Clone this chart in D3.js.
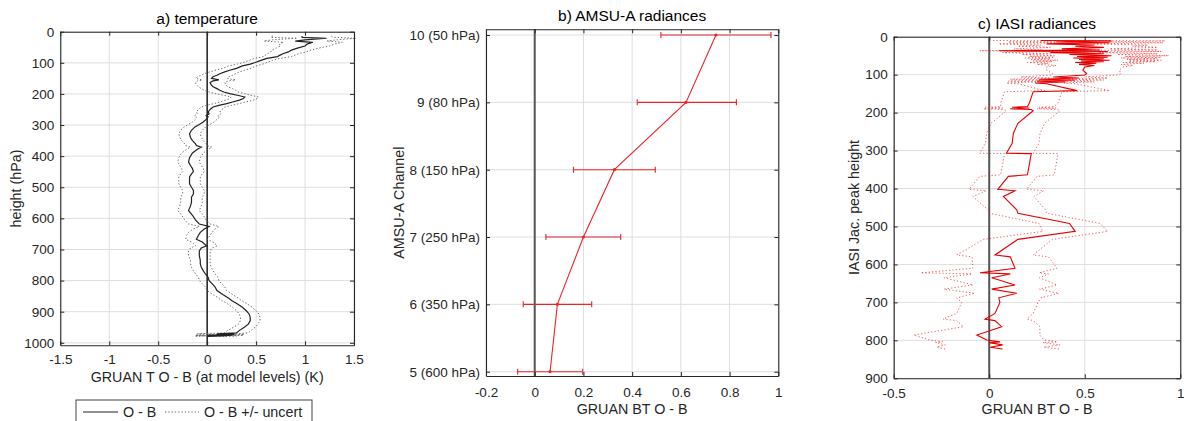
<!DOCTYPE html>
<html><head><meta charset="utf-8">
<script src="https://cdn.jsdelivr.net/npm/d3@7"></script>
<style>
body{margin:0;background:#fff;}
svg{display:block;font-family:"Liberation Sans",Arial,Helvetica,sans-serif;}
</style></head><body>
<svg id="chart" width="1184" height="421"></svg>
<script>
// ---------- Panel a: temperature ----------
const aP = [14, 18, 21, 26, 30, 34, 40, 46, 52, 59,
 65, 70, 76, 80, 86, 92, 99, 104, 110, 118,
 124, 129, 135, 140, 145, 150, 155, 158, 163, 170,
 177, 183, 188, 194, 199, 205, 210, 215, 220, 226,
 231, 237, 242, 250, 258, 264, 270, 274, 282, 290,
 298, 306, 317, 328, 340, 350, 360, 366, 371, 378,
 390, 405, 419, 430, 440, 450, 457, 467, 478, 489,
 500, 510, 521, 532, 548, 560, 575, 590, 605, 618,
 626, 634, 645, 655, 667, 676, 688, 695, 705, 720,
 735, 746, 757, 768, 778, 789, 800, 810, 820, 832,
 845, 857, 864, 875, 886, 897, 908, 918, 929, 940,
 950, 960, 968, 971, 973, 975, 976, 977, 978, 979];
const aOB = [0.97, 0.97, 1.22, 1.0, 0.9, 1.08, 1.02, 1.0, 0.93, 0.86,
 0.83, 0.78, 0.74, 0.72, 0.61, 0.55, 0.49, 0.44, 0.36, 0.30,
 0.23, 0.18, 0.13, 0.10, 0.06, 0.045, 0.12, 0.06, 0.03, 0.04,
 0.06, 0.10, 0.13, 0.17, 0.23, 0.32, 0.385, 0.37, 0.33, 0.26,
 0.20, 0.12, 0.06, 0.03, 0.01, 0.02, -0.01, 0.01, -0.01, -0.04,
 -0.08, -0.125, -0.16, -0.18, -0.17, -0.15, -0.12, -0.11, -0.06, -0.10,
 -0.15, -0.18, -0.19, -0.17, -0.15, -0.14, -0.16, -0.18, -0.18, -0.18,
 -0.16, -0.14, -0.14, -0.16, -0.16, -0.17, -0.19, -0.15, -0.12, -0.08,
 0.02, -0.03, -0.07, -0.09, -0.11, -0.05, -0.006, -0.06, -0.08, -0.08,
 -0.07, -0.07, -0.06, -0.04, -0.02, 0.01, 0.02, 0.05, 0.08, 0.10,
 0.16, 0.22, 0.25, 0.31, 0.36, 0.40, 0.43, 0.44, 0.44, 0.42,
 0.38, 0.33, 0.30, 0.10, 0.28, 0.0, 0.25, 0.02, 0.20, 0.0];
const aUnc = [0.30, 0.32, 0.30, 0.33, 0.32, 0.30, 0.28, 0.25, 0.22, 0.20,
 0.18, 0.16, 0.15, 0.14, 0.13, 0.12, 0.12, 0.13, 0.14, 0.14,
 0.15, 0.15, 0.16, 0.16, 0.16, 0.16, 0.17, 0.16, 0.15, 0.15,
 0.15, 0.16, 0.16, 0.15, 0.15, 0.14, 0.14, 0.14, 0.14, 0.13,
 0.13, 0.13, 0.12, 0.12, 0.12, 0.12, 0.12, 0.12, 0.11, 0.11,
 0.11, 0.11, 0.11, 0.11, 0.11, 0.11, 0.11, 0.11, 0.11, 0.11,
 0.11, 0.11, 0.11, 0.11, 0.11, 0.11, 0.11, 0.11, 0.11, 0.11,
 0.11, 0.11, 0.11, 0.11, 0.11, 0.11, 0.11, 0.11, 0.11, 0.11,
 0.10, 0.11, 0.12, 0.12, 0.11, 0.11, 0.11, 0.11, 0.11, 0.11,
 0.10, 0.10, 0.10, 0.10, 0.10, 0.10, 0.10, 0.10, 0.10, 0.10,
 0.10, 0.10, 0.10, 0.10, 0.10, 0.10, 0.10, 0.10, 0.10, 0.10,
 0.11, 0.12, 0.12, 0.20, 0.10, 0.12, 0.12, 0.14, 0.10, 0.12];
const aXTicks = [-1.5, -1, -0.5, 0, 0.5, 1, 1.5];
const aYTicks = [0, 100, 200, 300, 400, 500, 600, 700, 800, 900, 1000];

// ---------- Panel b: AMSU-A ----------
const bChannels = [5, 6, 7, 8, 9, 10];
const bLabels = ["5 (600 hPa)", "6 (350 hPa)", "7 (250 hPa)", "8 (150 hPa)", "9 (80 hPa)", "10 (50 hPa)"];
const bOB   = [0.063, 0.093, 0.200, 0.327, 0.621, 0.744];
const bLow  = [-0.070, -0.047, 0.046, 0.159, 0.421, 0.518];
const bHigh = [0.197, 0.234, 0.353, 0.495, 0.828, 0.970];
const bXTicks = [-0.2, 0, 0.2, 0.4, 0.6, 0.8, 1];

// ---------- Panel c: IASI ----------
const cP = [10, 11, 14, 16, 19, 22, 25, 28, 32, 35,
 37, 39, 42, 45, 47, 50, 52, 54, 56, 58,
 60, 62, 64, 66, 68, 70, 73, 76, 80, 88,
 97, 101, 106, 109, 112, 114, 117, 119, 122, 124,
 142, 145, 160, 175, 184, 186, 188, 190, 192, 195,
 228, 255, 281, 307, 308, 364, 368, 402, 406, 421,
 456, 465, 492, 513, 534, 575, 580, 610, 622, 625,
 635, 654, 665, 676, 688, 700, 729, 744, 748, 764,
 786, 799, 804, 806, 812, 818, 823];
const cOB = [0.27, 0.64, 0.35, 0.63, 0.30, 0.55, 0.45, 0.60, 0.38, 0.58,
 0.05, 0.62, 0.32, 0.60, 0.42, 0.64, 0.46, 0.62, 0.44, 0.60,
 0.47, 0.63, 0.48, 0.60, 0.45, 0.56, 0.47, 0.55, 0.50, 0.49,
 0.51, 0.50, 0.335, 0.47, 0.26, 0.45, 0.25, 0.40, 0.24, 0.30,
 0.46, 0.23, 0.22, 0.21, 0.20, 0.12, 0.21, 0.11, 0.22, 0.23,
 0.15, 0.126, 0.12, 0.09, 0.22, 0.20, 0.10, 0.045, 0.135, 0.074,
 0.144, 0.15, 0.42, 0.45, 0.15, 0.03, 0.11, 0.135, -0.048, 0.11,
 0.013, 0.135, 0.013, 0.144, 0.05, 0.056, 0.03, -0.022, 0.03, 0.065,
 -0.065, -0.013, 0.056, 0.0, 0.07, 0.005, 0.07];
const cUnc = [0.25, 0.28, 0.25, 0.28, 0.25, 0.28, 0.30, 0.28, 0.25, 0.30,
 0.10, 0.28, 0.25, 0.28, 0.25, 0.30, 0.25, 0.28, 0.25, 0.28,
 0.25, 0.27, 0.25, 0.27, 0.25, 0.25, 0.22, 0.20, 0.20, 0.19,
 0.18, 0.17, 0.17, 0.15, 0.15, 0.15, 0.15, 0.15, 0.15, 0.15,
 0.17, 0.15, 0.15, 0.15, 0.14, 0.14, 0.14, 0.14, 0.14, 0.14,
 0.14, 0.14, 0.14, 0.14, 0.14, 0.14, 0.15, 0.15, 0.15, 0.16,
 0.15, 0.15, 0.16, 0.17, 0.18, 0.20, 0.20, 0.22, 0.31, 0.20,
 0.25, 0.22, 0.25, 0.22, 0.22, 0.20, 0.20, 0.22, 0.20, 0.20,
 0.33, 0.30, 0.30, 0.28, 0.30, 0.28, 0.30];
const cXTicks = [-0.5, 0, 0.5, 1];
const cYTicks = [0, 100, 200, 300, 400, 500, 600, 700, 800, 900];

if (aP.length !== aOB.length || aP.length !== aUnc.length) throw new Error("panel a lengths " + aP.length + " " + aOB.length + " " + aUnc.length);
if (cP.length !== cOB.length || cP.length !== cUnc.length) throw new Error("panel c lengths " + cP.length + " " + cOB.length + " " + cUnc.length);

const svg = d3.select("#chart");
const TXT = "#262626";
const GRID = "#dedede";

function fmtNum(d) { return String(d); }

function drawFrame(g, x, y, o) {
  const [x0, x1] = x.range();
  const [yb, yt] = y.range();
  g.append("g").selectAll("line").data(o.gridX).join("line")
    .attr("x1", d => x(d)).attr("x2", d => x(d)).attr("y1", yt).attr("y2", yb)
    .attr("stroke", GRID).attr("stroke-width", 1);
  g.append("g").selectAll("line").data(o.gridY).join("line")
    .attr("x1", x0).attr("x2", x1).attr("y1", d => y(d)).attr("y2", d => y(d))
    .attr("stroke", GRID).attr("stroke-width", 1);
}

function drawAxes(g, x, y, o) {
  const [x0, x1] = x.range();
  const [yb, yt] = y.range();
  const style = sel => {
    sel.selectAll("path.domain").attr("stroke", TXT).attr("stroke-width", 1.1);
    sel.selectAll(".tick line").attr("stroke", TXT);
    sel.selectAll(".tick text").attr("fill", TXT).attr("font-size", "13.5px")
      .attr("font-family", '"Liberation Sans", Arial, sans-serif');
  };
  g.append("g").attr("transform", `translate(0,${yb})`)
    .call(d3.axisBottom(x).tickValues(o.xTicks).tickFormat(o.xFmt).tickSizeInner(-4).tickSizeOuter(0).tickPadding(o.xPad))
    .call(style);
  g.append("g").attr("transform", `translate(${x0},0)`)
    .call(d3.axisLeft(y).tickValues(o.yTicks).tickFormat(o.yFmt).tickSizeInner(-4).tickSizeOuter(0).tickPadding(6))
    .call(style);
  g.append("g").attr("transform", `translate(0,${yt})`)
    .call(d3.axisTop(x).tickValues(o.xTicks).tickFormat("").tickSizeInner(-4).tickSizeOuter(0))
    .call(style);
  g.append("g").attr("transform", `translate(${x1},0)`)
    .call(d3.axisRight(y).tickValues(o.yTicks).tickFormat("").tickSizeInner(-4).tickSizeOuter(0))
    .call(style);
  const cx = (x0 + x1) / 2;
  g.append("text").attr("x", cx).attr("y", o.titleY).attr("text-anchor", "middle")
    .attr("font-size", "15.5px").attr("fill", "#000").text(o.title);
  g.append("text").attr("x", cx).attr("y", o.xLabelY).attr("text-anchor", "middle")
    .attr("font-size", "14.3px").attr("fill", TXT).text(o.xLabel);
  g.append("text").attr("transform", `translate(${o.yLabelX},${(yb + yt) / 2}) rotate(-90)`)
    .attr("text-anchor", "middle").attr("dy", "0.35em")
    .attr("font-size", "14.3px").attr("fill", TXT).text(o.yLabel);
}

// ================= Panel a =================
{
  const g = svg.append("g");
  const x = d3.scaleLinear().domain([-1.5, 1.5]).range([60.3, 354]);
  const y = d3.scaleLinear().domain([1008, 0]).range([345.3, 31.7]);
  drawFrame(g, x, y, { gridX: aXTicks, gridY: aYTicks });
  g.append("line").attr("x1", x(0)).attr("x2", x(0)).attr("y1", y(1008)).attr("y2", y(0))
    .attr("stroke", "#000").attr("stroke-width", 1.3);
  const idx = d3.range(aP.length);
  const lineLow = d3.line().x(i => x(aOB[i] - aUnc[i])).y(i => y(aP[i]));
  const lineHigh = d3.line().x(i => x(aOB[i] + aUnc[i])).y(i => y(aP[i]));
  const lineOB = d3.line().x(i => x(aOB[i])).y(i => y(aP[i]));
  [lineLow, lineHigh].forEach(l => g.append("path").attr("d", l(idx)).attr("fill", "none")
    .attr("stroke", "#666").attr("stroke-width", 1).attr("stroke-dasharray", "1.3,2"));
  g.append("path").attr("d", lineOB(idx)).attr("fill", "none").attr("stroke", "#222").attr("stroke-width", 1.2);
  drawAxes(g, x, y, {
    xTicks: aXTicks, yTicks: aYTicks, xFmt: fmtNum, yFmt: fmtNum, xPad: 9,
    title: "a) temperature", titleY: 24,
    xLabel: "GRUAN T O - B (at model levels) (K)", xLabelY: 381.5,
    yLabel: "height (hPa)", yLabelX: 16
  });
  const lg = svg.append("g");
  lg.append("rect").attr("x", 76).attr("y", 400).attr("width", 236).attr("height", 40)
    .attr("fill", "#fff").attr("stroke", "#444").attr("stroke-width", 1);
  lg.append("line").attr("x1", 83).attr("x2", 118).attr("y1", 412).attr("y2", 412).attr("stroke", "#222").attr("stroke-width", 1.1);
  lg.append("text").attr("x", 123).attr("y", 417).attr("font-size", "14.3px").attr("fill", TXT).text("O - B");
  lg.append("line").attr("x1", 165).attr("x2", 199).attr("y1", 412).attr("y2", 412).attr("stroke", "#666")
    .attr("stroke-width", 1).attr("stroke-dasharray", "1.3,2");
  lg.append("text").attr("x", 204).attr("y", 417).attr("font-size", "14.3px").attr("fill", TXT).text("O - B +/- uncert");
}

// ================= Panel b =================
{
  const g = svg.append("g");
  const x = d3.scaleLinear().domain([-0.2, 1]).range([486, 778.3]);
  const y = d3.scaleLinear().domain([4.936, 10.085]).range([376, 29.3]);
  drawFrame(g, x, y, { gridX: bXTicks, gridY: bChannels });
  g.append("line").attr("x1", x(0)).attr("x2", x(0)).attr("y1", y(4.936)).attr("y2", y(10.085))
    .attr("stroke", "#555").attr("stroke-width", 2);
  const RED = "#e8262a";
  const idx = d3.range(bChannels.length);
  const eb = g.append("g").attr("stroke", RED).attr("stroke-width", 1.1);
  idx.forEach(i => {
    const yy = y(bChannels[i]);
    eb.append("line").attr("x1", x(bLow[i])).attr("x2", x(bHigh[i])).attr("y1", yy).attr("y2", yy);
    eb.append("line").attr("x1", x(bLow[i])).attr("x2", x(bLow[i])).attr("y1", yy - 3).attr("y2", yy + 3);
    eb.append("line").attr("x1", x(bHigh[i])).attr("x2", x(bHigh[i])).attr("y1", yy - 3).attr("y2", yy + 3);
  });
  g.append("path").attr("d", d3.line().x(i => x(bOB[i])).y(i => y(bChannels[i]))(idx))
    .attr("fill", "none").attr("stroke", RED).attr("stroke-width", 1.1);
  g.append("g").selectAll("circle").data(idx).join("circle")
    .attr("cx", i => x(bOB[i])).attr("cy", i => y(bChannels[i])).attr("r", 1.6).attr("fill", RED);
  drawAxes(g, x, y, {
    xTicks: bXTicks, yTicks: bChannels, xFmt: fmtNum, yFmt: d => bLabels[bChannels.indexOf(d)], xPad: 11,
    title: "b) AMSU-A radiances", titleY: 21,
    xLabel: "GRUAN BT O - B", xLabelY: 413.5,
    yLabel: "AMSU-A Channel", yLabelX: 399
  });
}

// ================= Panel c =================
{
  const g = svg.append("g");
  const x = d3.scaleLinear().domain([-0.5, 1]).range([893.7, 1180.3]);
  const y = d3.scaleLinear().domain([900, 0]).range([378.3, 36.7]);
  drawFrame(g, x, y, { gridX: cXTicks, gridY: cYTicks });
  g.append("line").attr("x1", x(0)).attr("x2", x(0)).attr("y1", y(900)).attr("y2", y(0))
    .attr("stroke", "#555").attr("stroke-width", 2);
  const idx = d3.range(cP.length);
  const lineLow = d3.line().x(i => x(cOB[i] - cUnc[i])).y(i => y(cP[i]));
  const lineHigh = d3.line().x(i => x(cOB[i] + cUnc[i])).y(i => y(cP[i]));
  const lineOB = d3.line().x(i => x(cOB[i])).y(i => y(cP[i]));
  [lineLow, lineHigh].forEach(l => g.append("path").attr("d", l(idx)).attr("fill", "none")
    .attr("stroke", "#e63232").attr("stroke-opacity", 0.8).attr("stroke-width", 1).attr("stroke-dasharray", "1.2,2.2"));
  g.append("path").attr("d", lineOB(idx)).attr("fill", "none").attr("stroke", "#e60000").attr("stroke-width", 1.1);
  drawAxes(g, x, y, {
    xTicks: cXTicks, yTicks: cYTicks, xFmt: fmtNum, yFmt: fmtNum, xPad: 10,
    title: "c) IASI radiances", titleY: 28.5,
    xLabel: "GRUAN BT O - B", xLabelY: 413.5,
    yLabel: "IASI Jac. peak height", yLabelX: 854
  });
}
</script>
</body></html>
